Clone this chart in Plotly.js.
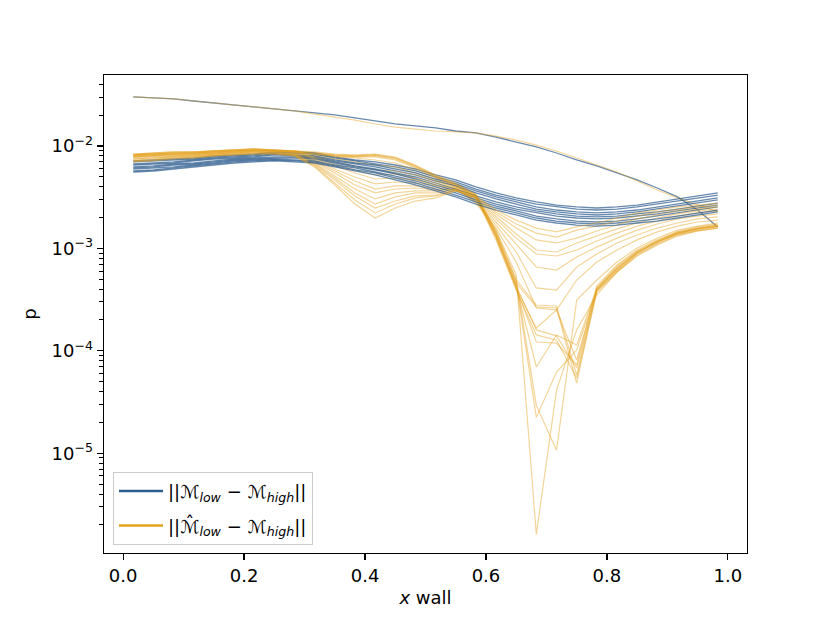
<!DOCTYPE html>
<html>
<head>
<meta charset="utf-8">
<script src="https://cdn.plot.ly/plotly-3.0.1.min.js"></script>
<style>html,body{margin:0;padding:0;background:#fff;}#chart{width:830px;height:623px;}</style>
</head>
<body>
<div id="chart"></div>
<script>
// x positions along the wall
const xWall = [0.0167,0.05,0.0833,0.1167,0.15,0.1833,0.2167,0.25,0.2833,0.3167,0.35,0.3833,0.4167,0.45,0.4833,0.5167,0.55,0.5833,0.6167,0.65,0.6833,0.7167,0.75,0.7833,0.8167,0.85,0.8833,0.9167,0.95,0.9833];

// values in units of 1e-3
const UNIT = 1e-3;

// ||M_low - M_high|| (blue)
const blueOut = [30.1,29.5,28.8,27.5,26.3,25.1,24.0,23.0,22.0,21.0,20.1,18.8,17.5,16.4,15.7,15.0,14.0,13.4,12.2,10.9,9.78,8.54,7.30,6.38,5.45,4.66,3.89,3.18,2.37,1.62];
const blue1 = [7.14,7.30,7.46,7.63,7.99,8.17,8.35,8.74,8.74,8.54,7.81,7.30,6.98,6.52,5.96,5.21,4.66,3.98,3.48,3.11,2.84,2.65,2.54,2.48,2.54,2.65,2.84,3.04,3.25,3.48];
const blue2 = [6.98,7.14,7.30,7.46,7.81,7.99,8.17,8.54,8.54,8.35,7.63,7.14,6.67,6.24,5.70,4.98,4.45,3.80,3.32,2.97,2.71,2.54,2.42,2.37,2.42,2.54,2.71,2.90,3.11,3.32];
const blue3 = [6.67,6.82,6.98,7.30,7.63,7.81,7.99,8.35,8.17,7.99,7.30,6.82,6.52,5.96,5.45,4.76,4.26,3.64,3.18,2.84,2.54,2.37,2.27,2.22,2.27,2.37,2.54,2.71,2.90,3.11];
const blue4 = [6.52,6.67,6.82,7.14,7.46,7.63,7.81,8.17,7.99,7.81,7.14,6.67,6.24,5.70,5.21,4.55,4.07,3.48,3.04,2.71,2.42,2.27,2.17,2.12,2.17,2.27,2.42,2.59,2.77,2.97];
const blue5 = [6.24,6.38,6.67,6.82,7.14,7.46,7.63,7.81,7.81,7.63,6.98,6.38,5.96,5.45,4.98,4.35,3.80,3.25,2.84,2.54,2.32,2.17,2.07,2.03,2.07,2.17,2.27,2.42,2.59,2.77];
const blue6 = [6.10,6.24,6.52,6.67,6.98,7.30,7.46,7.63,7.63,7.46,6.82,6.24,5.83,5.33,4.76,4.16,3.64,3.11,2.71,2.42,2.22,2.07,1.98,1.94,1.98,2.07,2.17,2.32,2.48,2.65];
const blue7 = [5.96,6.10,6.24,6.52,6.82,7.14,7.30,7.46,7.30,7.14,6.52,6.10,5.57,5.09,4.55,3.98,3.48,2.97,2.59,2.32,2.07,1.94,1.85,1.81,1.85,1.94,2.07,2.22,2.37,2.54];
const blue8 = [5.70,5.83,6.10,6.38,6.67,6.98,7.14,7.30,7.14,6.98,6.38,5.83,5.45,4.87,4.35,3.80,3.32,2.84,2.48,2.22,1.98,1.85,1.77,1.73,1.77,1.85,1.94,2.07,2.22,2.37];
const blue9 = [5.57,5.70,5.96,6.24,6.52,6.82,6.98,7.14,6.98,6.82,6.24,5.70,5.21,4.66,4.16,3.64,3.18,2.71,2.37,2.12,1.89,1.77,1.69,1.65,1.69,1.77,1.85,1.98,2.12,2.27];

// ||M^_low - M_high|| (orange)
const orangeOut = [30.1,29.5,28.8,27.5,26.3,25.1,24.0,23.0,22.0,20.5,19.2,17.9,16.4,15.3,14.6,14.0,13.7,13.4,12.5,11.4,10.2,8.94,7.63,6.52,5.57,4.55,3.72,3.11,2.65,2.27];
const orangeP1 = [8.17,8.35,8.54,8.74,8.94,9.14,9.14,9.14,8.94,8.54,8.17,7.99,8.17,7.63,6.38,5.09,4.26,3.32,1.35,0.459,0.268,0.262,0.0485,0.392,0.615,0.902,1.155,1.41,1.55,1.65];
const orangeP2 = [7.99,8.17,8.35,8.54,8.74,8.94,9.14,9.14,8.94,8.74,8.35,8.17,8.35,7.81,6.52,5.21,4.35,3.40,1.45,0.491,0.280,0.274,0.0580,0.411,0.643,0.922,1.18,1.45,1.58,1.69];
const orangeP3 = [8.35,8.54,8.74,8.74,8.94,9.14,9.35,9.14,8.74,8.35,7.99,7.81,7.99,7.46,6.24,4.98,4.16,3.25,1.29,0.429,0.160,0.140,0.0679,0.384,0.602,0.882,1.13,1.38,1.51,1.62];
const orangeP4 = [7.81,7.99,8.17,8.35,8.54,8.74,8.94,8.94,8.74,8.54,8.17,7.99,8.17,7.63,6.38,5.09,4.26,3.32,1.26,0.411,0.167,0.250,0.0813,0.401,0.629,0.902,1.155,1.41,1.55,1.65];
const orangeP5 = [8.17,8.35,8.54,8.54,8.74,8.94,9.14,8.94,8.74,8.35,7.99,7.81,7.81,7.30,6.10,4.98,4.16,3.18,1.21,0.392,0.143,0.127,0.0542,0.375,0.588,0.862,1.10,1.35,1.48,1.58];
const orangeD1 = [8.35,8.54,8.74,8.74,8.94,9.14,9.35,9.14,8.94,8.17,7.81,7.63,7.30,6.82,5.83,4.87,4.07,3.25,1.51,0.550,0.00161,0.0414,0.160,0.351,0.588,0.843,1.08,1.32,1.48,1.58];
const orangeD2 = [8.17,8.35,8.54,8.54,8.94,9.14,9.35,9.14,8.94,7.99,7.46,6.98,6.52,6.24,5.45,4.66,4.07,3.18,1.45,0.491,0.0293,0.0107,0.313,0.491,0.736,1.01,1.26,1.51,1.65,1.77];
const orangeD3 = [8.17,8.35,8.54,8.54,8.74,8.94,9.14,8.94,8.74,7.81,6.98,6.38,5.83,5.70,5.21,4.55,3.98,3.25,1.38,0.449,0.0224,0.0621,0.102,0.392,0.643,0.922,1.155,1.38,1.55,1.65];
const orangeD4 = [7.99,8.17,8.35,8.35,8.74,8.94,9.14,8.94,8.74,7.63,6.67,5.83,5.21,5.33,4.87,4.35,3.98,3.18,1.35,0.429,0.0695,0.143,0.114,0.411,0.673,0.943,1.18,1.41,1.58,1.69];
const orangeD5 = [7.81,7.99,8.35,8.35,8.54,8.74,8.94,8.94,8.54,7.46,6.38,5.45,4.76,4.87,4.66,4.16,3.89,3.11,1.32,0.411,0.122,0.119,0.0727,0.429,0.688,0.965,1.21,1.45,1.62,1.73];
const orangeU8 = [7.81,7.99,8.17,8.17,8.54,8.74,8.94,8.74,8.54,7.30,5.96,4.98,4.26,4.45,4.35,4.07,3.89,2.77,1.58,0.736,0.262,0.250,0.491,0.736,0.965,1.21,1.45,1.65,1.81,1.89];
const orangeU7 = [7.63,7.81,7.99,8.17,8.35,8.54,8.74,8.74,8.35,7.14,5.70,4.55,3.80,4.07,4.07,3.89,3.80,2.84,1.69,0.922,0.411,0.392,0.658,0.882,1.13,1.35,1.58,1.77,1.94,2.03];
const orangeU6 = [7.46,7.63,7.99,7.99,8.35,8.54,8.74,8.74,8.35,6.98,5.45,4.16,3.48,3.80,3.89,3.72,3.80,2.90,1.81,1.10,0.658,0.615,0.824,1.03,1.26,1.51,1.73,1.94,2.07,2.17];
const orangeU5 = [7.46,7.63,7.81,7.99,8.35,8.54,8.74,8.54,8.35,6.82,5.09,3.80,3.04,3.48,3.64,3.64,3.80,2.97,1.94,1.26,0.882,0.843,0.965,1.18,1.41,1.65,1.85,2.07,2.22,2.32];
const orangeU4 = [7.30,7.46,7.81,7.81,8.17,8.35,8.54,8.54,8.17,6.67,4.87,3.48,2.71,3.18,3.48,3.48,3.72,3.04,2.03,1.38,0.965,0.922,1.13,1.32,1.55,1.77,1.98,2.17,2.32,2.42];
const orangeU3 = [7.14,7.30,7.63,7.81,8.17,8.35,8.54,8.54,8.17,6.52,4.66,3.25,2.48,2.90,3.25,3.32,3.72,3.11,2.17,1.58,1.21,1.13,1.26,1.48,1.69,1.94,2.12,2.32,2.42,2.54];
const orangeU2 = [7.14,7.30,7.63,7.63,7.99,8.17,8.35,8.35,7.99,6.38,4.35,2.97,2.22,2.71,3.11,3.25,3.64,3.18,2.27,1.73,1.41,1.29,1.51,1.65,1.85,2.07,2.27,2.42,2.54,2.65];
const orangeU1 = [6.98,7.14,7.46,7.63,7.99,8.17,8.35,8.35,7.99,6.24,4.16,2.71,1.98,2.48,2.90,3.11,3.64,3.25,2.37,1.89,1.58,1.45,1.62,1.77,1.98,2.22,2.37,2.54,2.65,2.77];

const yMajorVals = [1e-5, 1e-4, 1e-3, 1e-2];
const yMajorText = ['10<sup>−5</sup>','10<sup>−4</sup>','10<sup>−3</sup>','10<sup>−2</sup>'];
const xTickVals = [0, 0.2, 0.4, 0.6, 0.8, 1.0];

const legendBlue = '||ℳ<sub><i>low</i></sub> − ℳ<sub><i>high</i></sub>||';
const legendOrange = '||ℳ̂<sub><i>low</i></sub> − ℳ<sub><i>high</i></sub>||';

const BLUE = 'rgba(40,88,140,0.7)';
const ORANGE = 'rgba(228,162,30,0.45)';

const blues = [blueOut, blue1, blue2, blue3, blue4, blue5, blue6, blue7, blue8, blue9];
const oranges = [orangeOut, orangeP1, orangeD1, orangeU8, orangeP2, orangeD2, orangeU7, orangeP3, orangeD3, orangeU6,
                 orangeP4, orangeD4, orangeU5, orangeP5, orangeD5, orangeU4, orangeU3, orangeU2, orangeU1];

function line(vals, color, w) {
  return {x: xWall, y: vals.map(v => v * UNIT), type: 'scatter', mode: 'lines',
          line: {color: color, width: w}, showlegend: false, hoverinfo: 'skip'};
}

const traces = [];
let bi = 0, oi = 0;
while (bi < blues.length || oi < oranges.length) {
  if (bi < blues.length) traces.push(line(blues[bi++], BLUE, 1.3));
  for (let r = 0; r < 2 && oi < oranges.length; r++) traces.push(line(oranges[oi++], ORANGE, 1.2));
}
traces.push({x: [null], y: [null], type: 'scatter', mode: 'lines', name: legendBlue, legendgroup: 'a',
             line: {color: '#2c5d8f', width: 2.4}});
traces.push({x: [null], y: [null], type: 'scatter', mode: 'lines', name: legendOrange, legendgroup: 'b',
             line: {color: '#e4a21e', width: 2.4}});

const minorVals = [];
for (let e = -7; e <= -2; e++) for (let m = 2; m <= 9; m++) minorVals.push(m * Math.pow(10, e));

const font = {family: 'DejaVu Sans, sans-serif', size: 18, color: '#000'};

const layout = {
  width: 830, height: 623,
  margin: {l: 104, r: 83, t: 75, b: 70},
  paper_bgcolor: '#fff', plot_bgcolor: '#fff',
  font: font,
  showlegend: true,
  legend: {x: 0.014, y: 0.017, xanchor: 'left', yanchor: 'bottom',
           bgcolor: 'rgba(255,255,255,0.8)', bordercolor: '#cccccc', borderwidth: 1,
           font: {family: 'DejaVu Sans, sans-serif', size: 18, color: '#000'},
           itemwidth: 44, tracegroupgap: 8},
  xaxis: {
    range: [-0.0317, 1.0317], showgrid: false, zeroline: false,
    showline: true, linecolor: '#000', linewidth: 1.3, mirror: true,
    ticks: 'outside', ticklen: 6, tickwidth: 1.3, tickcolor: '#000',
    tickmode: 'array', tickvals: xTickVals, tickformat: '.1f',
    title: {text: '<i>x</i> wall', font: font, standoff: 6},
    automargin: false
  },
  yaxis: {
    type: 'log', range: [-5.974, -1.307], showgrid: false, zeroline: false,
    showline: true, linecolor: '#000', linewidth: 1.3, mirror: true,
    ticks: 'outside', ticklen: 6, tickwidth: 1.3, tickcolor: '#000',
    tickmode: 'array', tickvals: yMajorVals, ticktext: yMajorText,
    minor: {tickmode: 'array', tickvals: minorVals, ticks: 'outside', ticklen: 3.5, tickwidth: 1, tickcolor: '#000', showgrid: false},
    title: {text: 'p', font: font, standoff: 10},
    automargin: false
  }
};

Plotly.newPlot('chart', traces, layout, {displayModeBar: false, staticPlot: true});
</script>
</body>
</html>
